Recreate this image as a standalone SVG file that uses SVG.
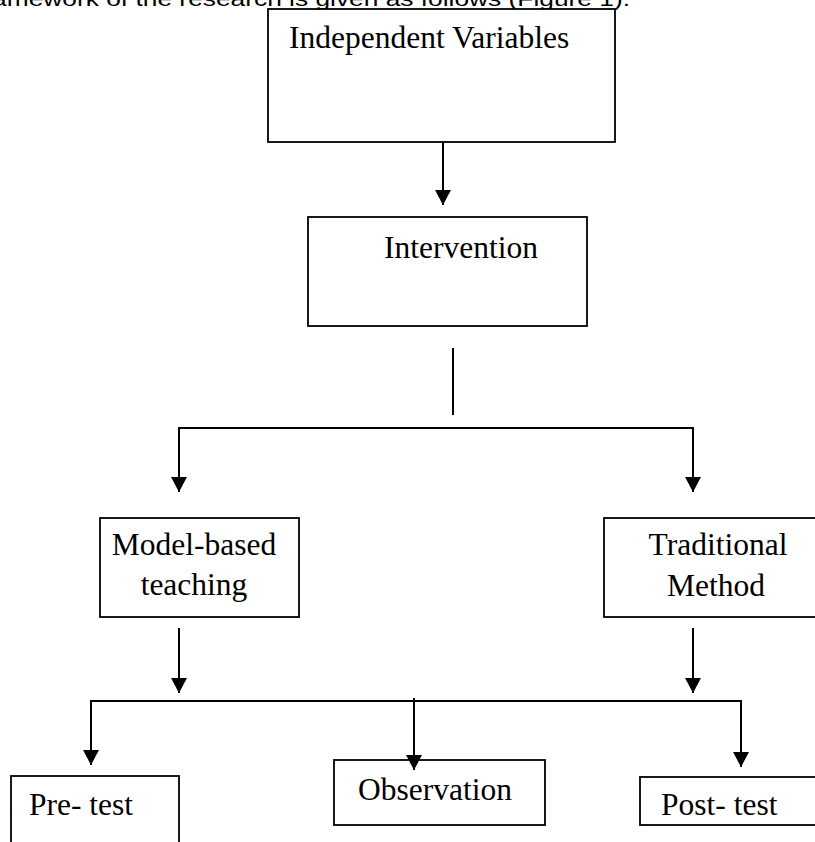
<svg xmlns="http://www.w3.org/2000/svg" width="815" height="842" viewBox="0 0 815 842">
<defs>
<style>
.box{fill:#fff;stroke:#000;stroke-width:1.8}
.lbl{font-family:"Liberation Serif","Times New Roman",serif;font-size:31.5px;fill:#000}
.cap{font-family:"Liberation Sans",Arial,sans-serif;font-size:20px;fill:#000}
.ln{fill:none;stroke:#000;stroke-width:2}
</style>
<marker id="ah" markerWidth="16" markerHeight="16" viewBox="0 0 16 16" refX="15" refY="8" orient="auto" markerUnits="userSpaceOnUse">
<path d="M0,0 L15,8 L0,16 Z" fill="#000"/>
</marker>
</defs>
<rect width="815" height="842" fill="#fff"/>
<text class="cap" x="-24" y="5.5" textLength="654" lengthAdjust="spacingAndGlyphs">framework of the research is given as follows (Figure 1).</text>

<g id="independent-variables">
<rect class="box" x="268" y="9" width="347" height="133"/>
<text class="lbl" x="289" y="48">Independent Variables</text>
</g>
<g id="intervention">
<rect class="box" x="308" y="217" width="279" height="109"/>
<text class="lbl" x="384" y="258">Intervention</text>
</g>
<g id="model-based-teaching">
<rect class="box" x="100" y="518" width="199" height="99"/>
<text class="lbl" x="194" y="555" text-anchor="middle">Model-based</text>
<text class="lbl" x="194" y="595" text-anchor="middle">teaching</text>
</g>
<g id="traditional-method">
<rect class="box" x="604" y="518" width="230" height="99"/>
<text class="lbl" x="718" y="555" text-anchor="middle">Traditional</text>
<text class="lbl" x="716" y="596" text-anchor="middle">Method</text>
</g>
<g id="pre-test">
<rect class="box" x="11" y="776" width="168" height="90"/>
<text class="lbl" x="29" y="815">Pre- test</text>
</g>
<g id="observation">
<rect class="box" x="334" y="760" width="211" height="65"/>
<text class="lbl" x="358" y="800">Observation</text>
</g>
<g id="post-test">
<rect class="box" x="640" y="777" width="200" height="48"/>
<text class="lbl" x="661" y="815">Post- test</text>
</g>

<g id="connectors">
<line class="ln" x1="443" y1="142" x2="443" y2="205" marker-end="url(#ah)"/>
<line class="ln" x1="453" y1="348" x2="453" y2="415"/>
<polyline class="ln" points="179,492 179,428 693,428 693,492" marker-end="url(#ah)"/>
<line class="ln" x1="179" y1="428" x2="179" y2="492" marker-end="url(#ah)"/>
<line class="ln" x1="179" y1="628" x2="179" y2="693" marker-end="url(#ah)"/>
<line class="ln" x1="693" y1="628" x2="693" y2="693" marker-end="url(#ah)"/>
<polyline class="ln" points="91,765 91,701 741,701 741,767" marker-end="url(#ah)"/>
<line class="ln" x1="91" y1="701" x2="91" y2="765" marker-end="url(#ah)"/>
<line class="ln" x1="414" y1="698" x2="414" y2="770" marker-end="url(#ah)"/>
</g>
</svg>
